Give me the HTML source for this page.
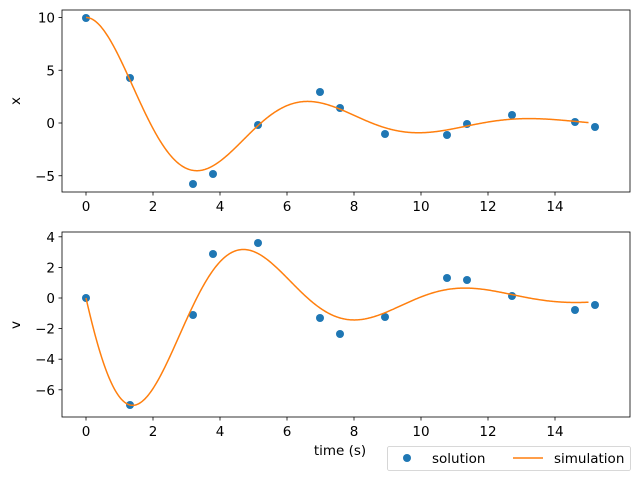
<!DOCTYPE html>
<html><head><meta charset="utf-8"><style>
body{margin:0;background:#fff}
svg text{font-family:"DejaVu Sans","Liberation Sans",sans-serif;font-size:13.5px;fill:#000}
</style></head><body>
<svg id="s" width="638" height="478" xmlns="http://www.w3.org/2000/svg">
<rect x="0" y="0" width="638" height="478" fill="#fff"/>
<g id="g"></g>
</svg>
<script>
const NS="http://www.w3.org/2000/svg";const g=document.getElementById('g');
function el(t,a,txt){const e=document.createElementNS(NS,t);for(const k in a)e.setAttribute(k,a[k]);if(txt!==undefined)e.textContent=txt;g.appendChild(e);return e;}
const X=t=>86+t*33.5;
const Yt=v=>123-v*10.55, Yb=v=>298-v*15.3;
const a=0.24,w=0.95;
const xf=t=>10*Math.exp(-a*t)*(Math.cos(w*t)+(a/w)*Math.sin(w*t));
const vf=t=>-10*Math.exp(-a*t)*(w+a*a/w)*Math.sin(w*t);
function axes(top,bot,Y,ticks,lab,ly){
  el('rect',{x:62,y:top,width:568,height:bot-top,fill:'none',stroke:'#000','stroke-width':0.8});
  for(let t=0;t<=14;t+=2){el('line',{x1:X(t),x2:X(t),y1:bot,y2:bot+3.5,stroke:'#000','stroke-width':0.8});
    el('text',{x:X(t),y:bot+19,'text-anchor':'middle'},t);}
  ticks.forEach(v=>{el('line',{x1:58.5,x2:62,y1:Y(v),y2:Y(v),stroke:'#000','stroke-width':0.8});
    el('text',{x:55,y:Y(v)+5,'text-anchor':'end'},v<0?'\u2212'+(-v):v);});
  el('text',{x:20,y:ly,'text-anchor':'middle',transform:`rotate(-90 20 ${ly})`},lab);
}
axes(10,192,Yt,[-5,0,5,10],'x',101);
axes(232,417,Yb,[-6,-4,-2,0,2,4],'v',325);
function curve(f,Y){let d='';for(let i=0;i<=600;i++){const t=15*i/600;d+=(i?'L':'M')+X(t).toFixed(2)+','+Y(f(t)).toFixed(2);}
  el('path',{d,fill:'none',stroke:'#ff7f0e','stroke-width':1.5});}
const pt=[[86,18],[130,78],[193,184],[213,174],[258,125],[320,92],[340,108],[385,134],[447,135],[467,124],[512,115],[575,122],[595,127]];
const pb=[[86,298],[130,405],[193,315],[213,254],[258,243],[320,318],[340,334],[385,317],[447,278],[467,280],[512,296],[575,310],[595,305]];
pt.concat(pb).forEach(p=>el('circle',{cx:p[0],cy:p[1],r:4,fill:'#1f77b4'}));
curve(xf,Yt);curve(vf,Yb);
el('text',{x:340,y:455,'text-anchor':'middle'},'time (s)');
el('rect',{x:387.5,y:446.5,width:243,height:24,rx:2,fill:'#fff',stroke:'#ccc','stroke-width':0.8});
el('circle',{cx:407,cy:458,r:4,fill:'#1f77b4'});
el('text',{x:432,y:463},'solution');
el('line',{x1:513,x2:543,y1:458,y2:458,stroke:'#ff7f0e','stroke-width':1.5});
el('text',{x:554,y:463},'simulation');
</script>
</body></html>
